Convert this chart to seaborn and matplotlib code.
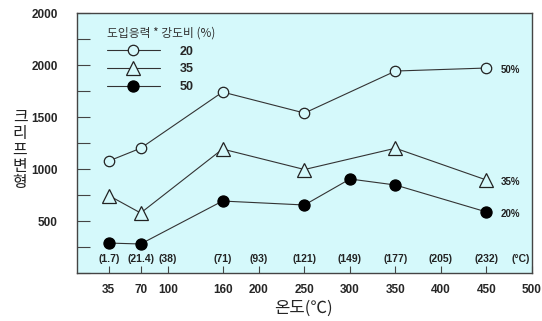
import matplotlib
matplotlib.use("Agg")
import matplotlib.pyplot as plt
import seaborn as sns
import pandas as pd

# ---- data ----
temps_a = [35, 70, 160, 250, 350, 450]
s20 = [1077, 1200, 1740, 1538, 1942, 1971]
s35 = [745, 577, 1192, 995, 1200, 894]
temps_c = [35, 70, 160, 250, 300, 350, 450]
s50 = [288, 279, 692, 654, 904, 846, 587]
series_names = ["20", "35", "50"]
end_labels = ["50%", "35%", "20%"]
xticks = [35, 70, 100, 160, 200, 250, 300, 350, 400, 450, 500]
inner_ticks = [35, 70, 100, 160, 200, 250, 300, 350, 400, 450]
inner_labels = ["(1.7)", "(21.4)", "(38)", "(71)", "(93)", "(121)", "(149)", "(177)", "(205)", "(232)"]
ytick_vals = [500, 1000, 1500, 2000, 2500]
ytick_labels = ["500", "1000", "1500", "2000", "2000"]
ylabel_text = "크리프변형"
xlabel_text = "온도(℃)"
legend_title = "도입응력 * 강도비 (%)"

sns.set_theme(style="white")
plt.rcParams['font.family'] = ['Liberation Sans', 'Noto Sans CJK KR', 'DejaVu Sans']

fig = plt.figure(figsize=(5.42, 3.21), dpi=100)
ax = fig.add_axes([0.142, 0.1495, 0.8395, 0.81])
bg = '#d5f9fb'
ax.set_facecolor(bg)

df = pd.concat([
    pd.DataFrame({"temp": temps_a, "val": s20, "s": series_names[0]}),
    pd.DataFrame({"temp": temps_a, "val": s35, "s": series_names[1]}),
    pd.DataFrame({"temp": temps_c, "val": s50, "s": series_names[2]}),
])

lc = '#333333'
styles = [
    dict(marker='o', markersize=7.5, markerfacecolor=bg, markeredgecolor='#222222'),
    dict(marker='^', markersize=9.5, markerfacecolor=bg, markeredgecolor='#222222'),
    dict(marker='o', markersize=8, markerfacecolor='black', markeredgecolor='black'),
]
for name, st in zip(series_names, styles):
    sub = df[df["s"] == name]
    sns.lineplot(data=sub, x="temp", y="val", ax=ax, color=lc, linewidth=0.8,
                 label=name, markeredgewidth=0.9, **st)

ax.set_xlim(0, 500)
ax.set_ylim(0, 2500)

yt = list(range(0, 2501, 250))
ax.set_yticks(yt)
ax.set_yticklabels(["" if v not in ytick_vals else ytick_labels[ytick_vals.index(v)]
                    for v in yt], fontsize=8.5, fontweight='bold')
ax.tick_params(axis='y', direction='in', length=9, width=0.8, color='#444444',
               left=True, pad=14)
ax.set_xticks(xticks)
ax.set_xticklabels([str(v) for v in xticks], fontsize=8.5, fontweight='bold')
ax.tick_params(axis='x', direction='in', length=5, width=0.8, color='#444444',
               bottom=True, pad=8)

for sp in ax.spines.values():
    sp.set_color('#444444')
    sp.set_linewidth(1.0)

for xv, lab in zip(inner_ticks, inner_labels):
    ax.text(xv, 85, lab, ha='center', va='bottom', fontsize=7.5, fontweight='bold', color='#222222')
ax.text(478, 85, "(°C)", ha='left', va='bottom', fontsize=7.5, fontweight='bold', color='#222222')

ends = [(s20[-1], end_labels[0]), (s35[-1], end_labels[1]), (s50[-1], end_labels[2])]
for yv, lab in ends:
    ax.text(466, yv - 20, lab, ha='left', va='center', fontsize=7, fontweight='bold', color='#222222')

ax.set_xlabel("")
ax.set_ylabel("")
fig.text(0.559, 0.038, xlabel_text, ha='center', va='center', fontsize=12,
         family=['Noto Sans CJK KR', 'DejaVu Sans'])
y0, dy = 1 - 117 / 321, 16.5 / 321
for i, ch in enumerate(ylabel_text):
    fig.text(0.037, y0 - i * dy, ch, ha='center', va='center', fontsize=11.5,
             family=['Noto Sans CJK KR', 'DejaVu Sans'], color='#222222')

leg = ax.legend(title=legend_title, loc='upper left', frameon=False,
                bbox_to_anchor=(0.05, 0.975), handlelength=4.2, handletextpad=1.6,
                labelspacing=0.45, fontsize=9, title_fontsize=8.5, alignment='left',
                borderaxespad=0.2)
for t in leg.get_texts():
    t.set_fontweight('bold')
leg.get_title().set_family(['Noto Sans CJK KR', 'DejaVu Sans'])
leg.get_title().set_color('#333333')

fig.savefig("out.png", dpi=100, facecolor='white')
